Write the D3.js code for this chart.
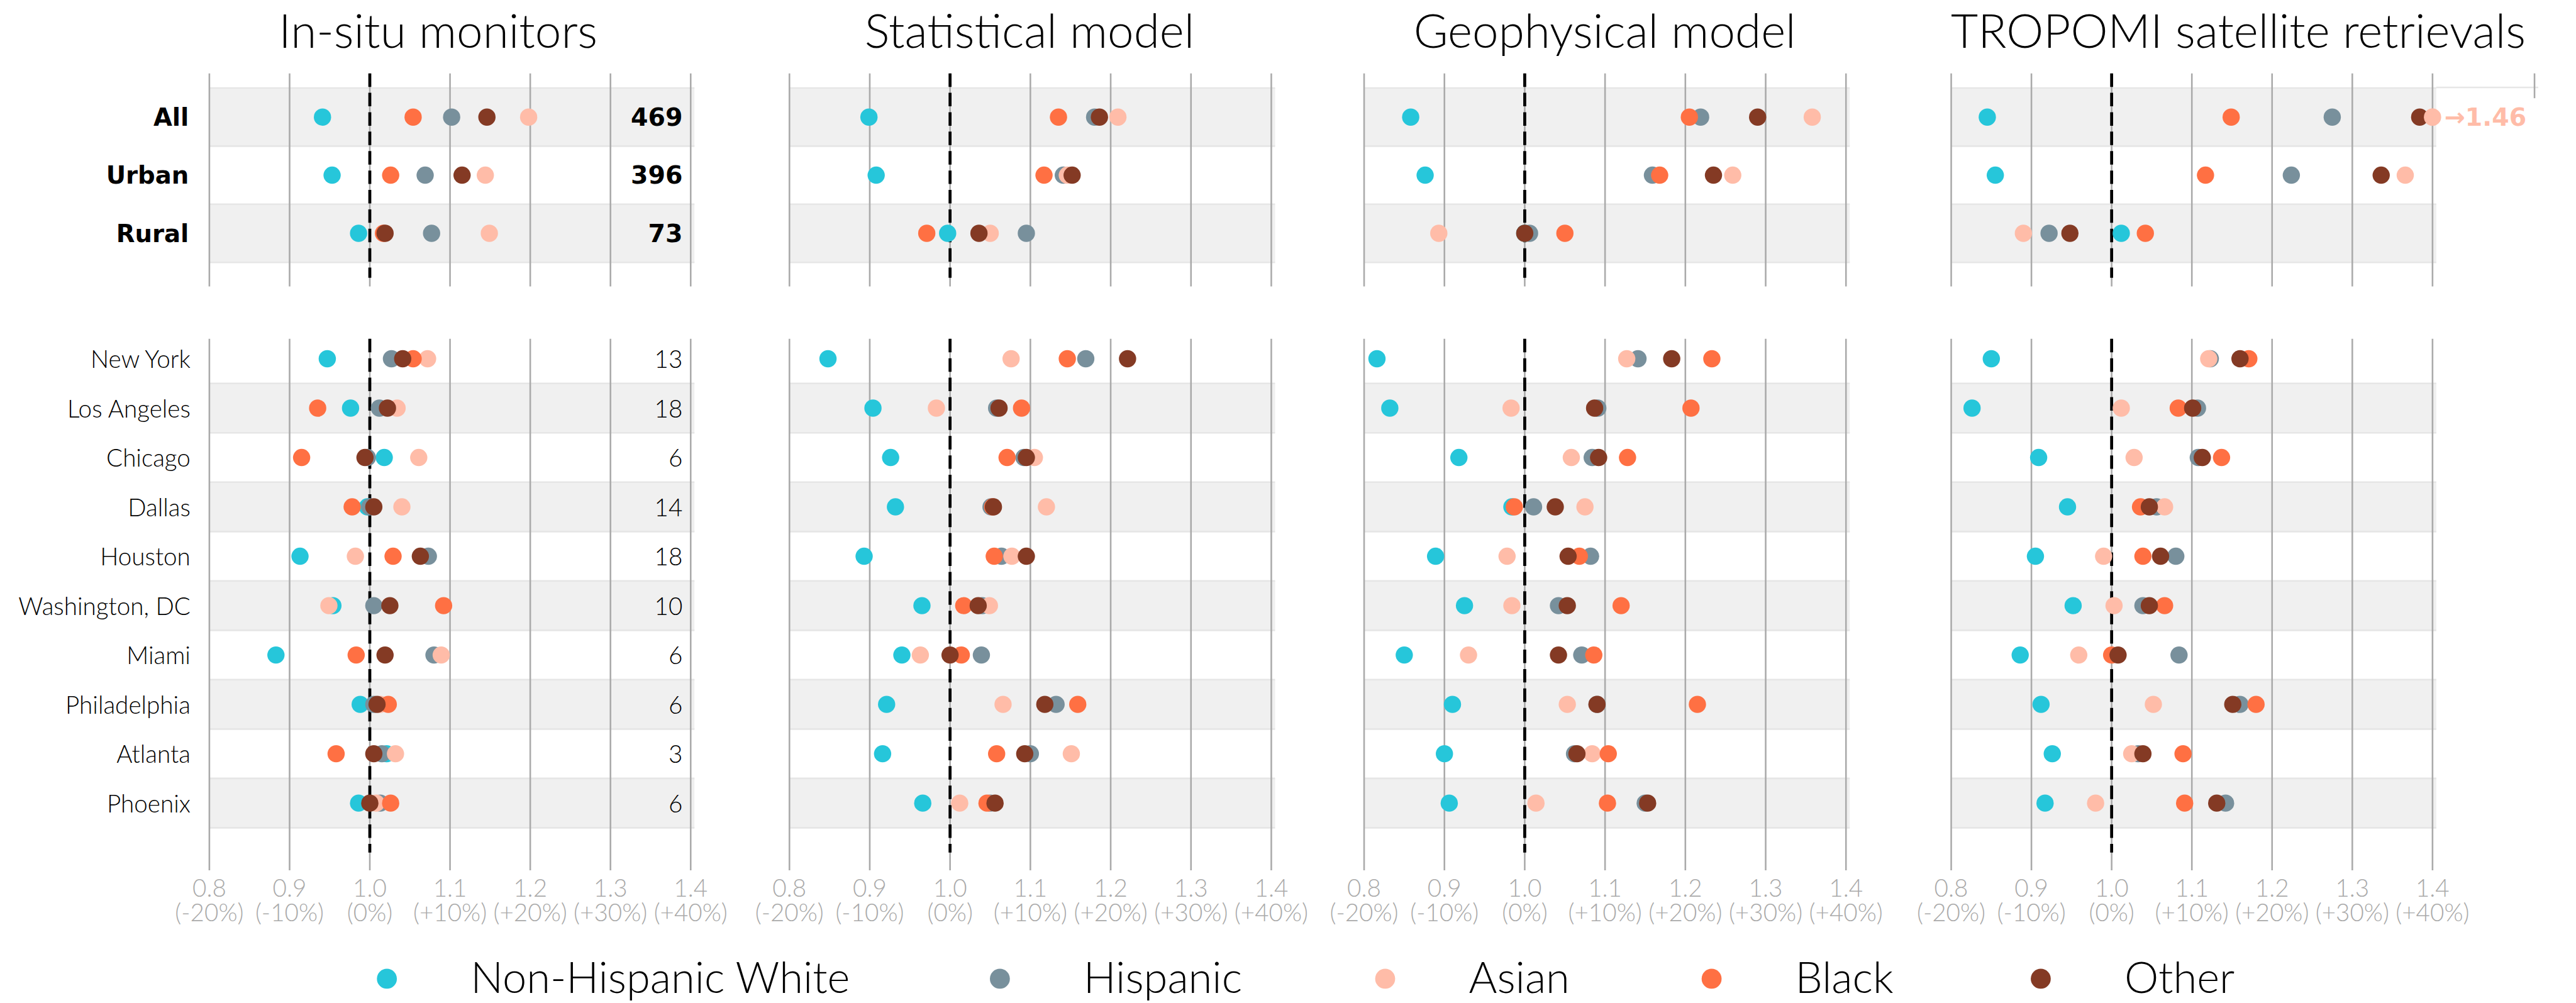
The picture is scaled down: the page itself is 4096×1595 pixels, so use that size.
<!DOCTYPE html>
<html>
<head>
<meta charset="utf-8">
<script src="https://cdn.jsdelivr.net/npm/d3@7"></script>
<style>
  html, body { margin: 0; padding: 0; background: #fff; }
  svg { display: block; }
</style>
</head>
<body>
<div id="main"></div>
<script>
// ---- data ----
const races = ["Non-Hispanic White", "Hispanic", "Asian", "Black", "Other"];
const raceColors = ["#26c6da", "#78909c", "#ffbca8", "#ff7043", "#843a24"];

const groupRows = ["All", "Urban", "Rural"];
const groupCounts = [469, 396, 73];
const cityRows = ["New York", "Los Angeles", "Chicago", "Dallas", "Houston",
                  "Washington, DC", "Miami", "Philadelphia", "Atlanta", "Phoenix"];
const cityCounts = [13, 18, 6, 14, 18, 10, 6, 6, 3, 6];

const panelTitles = ["In-situ monitors", "Statistical model", "Geophysical model", "TROPOMI satellite retrievals"];
const tickValues = [0.8, 0.9, 1.0, 1.1, 1.2, 1.3, 1.4];
const tickPercents = ["(-20%)", "(-10%)", "(0%)", "(+10%)", "(+20%)", "(+30%)", "(+40%)"];

// rows: All, Urban, Rural, then cities; columns follow `races`
const insitu = [
  [0.941, 1.102, 1.198, 1.054, 1.146],
  [0.953, 1.069, 1.144, 1.026, 1.115],
  [0.986, 1.077, 1.149, 1.017, 1.019],
  [0.947, 1.027, 1.072, 1.054, 1.041],
  [0.976, 1.012, 1.034, 0.935, 1.022],
  [1.018, 0.997, 1.061, 0.915, 0.994],
  [0.997, 1.000, 1.040, 0.978, 1.005],
  [0.913, 1.073, 0.982, 1.029, 1.063],
  [0.954, 1.005, 0.949, 1.092, 1.025],
  [0.883, 1.080, 1.089, 0.983, 1.019],
  [0.988, 1.005, 1.013, 1.023, 1.009],
  [1.021, 1.015, 1.032, 0.958, 1.005],
  [0.986, 1.013, 1.008, 1.026, 1.000]
];
const statistical = [
  [0.899, 1.180, 1.209, 1.135, 1.186],
  [0.908, 1.141, 1.146, 1.117, 1.152],
  [0.997, 1.095, 1.050, 0.971, 1.036],
  [0.848, 1.169, 1.076, 1.146, 1.221],
  [0.904, 1.058, 0.983, 1.089, 1.061],
  [0.926, 1.092, 1.105, 1.071, 1.095],
  [0.932, 1.051, 1.120, 1.053, 1.054],
  [0.893, 1.064, 1.077, 1.055, 1.095],
  [0.965, 1.040, 1.049, 1.017, 1.035],
  [0.940, 1.039, 0.963, 1.014, 1.000],
  [0.921, 1.132, 1.066, 1.159, 1.118],
  [0.916, 1.100, 1.151, 1.058, 1.093],
  [0.966, 1.050, 1.012, 1.046, 1.056]
];
const geophysical = [
  [0.858, 1.219, 1.358, 1.205, 1.290],
  [0.876, 1.159, 1.259, 1.168, 1.235],
  [1.000, 1.006, 0.893, 1.050, 1.000],
  [0.816, 1.141, 1.127, 1.233, 1.183],
  [0.832, 1.091, 0.983, 1.207, 1.087],
  [0.918, 1.084, 1.058, 1.128, 1.092],
  [0.984, 1.011, 1.075, 0.987, 1.038],
  [0.889, 1.082, 0.978, 1.068, 1.054],
  [0.925, 1.042, 0.984, 1.120, 1.053],
  [0.850, 1.071, 0.930, 1.086, 1.042],
  [0.910, 1.090, 1.053, 1.215, 1.090],
  [0.900, 1.062, 1.084, 1.104, 1.065],
  [0.906, 1.150, 1.014, 1.103, 1.153]
];
const tropomi = [
  [0.845, 1.275, 1.460, 1.149, 1.384],
  [0.855, 1.224, 1.366, 1.117, 1.336],
  [1.012, 0.922, 0.890, 1.042, 0.948],
  [0.850, 1.123, 1.121, 1.171, 1.160],
  [0.826, 1.107, 1.012, 1.083, 1.101],
  [0.909, 1.108, 1.028, 1.137, 1.113],
  [0.945, 1.056, 1.066, 1.036, 1.047],
  [0.905, 1.080, 0.990, 1.039, 1.061],
  [0.952, 1.039, 1.003, 1.066, 1.047],
  [0.886, 1.084, 0.959, 1.000, 1.008],
  [0.912, 1.160, 1.052, 1.180, 1.151],
  [0.926, 1.033, 1.025, 1.089, 1.039],
  [0.917, 1.142, 0.980, 1.091, 1.131]
];
const panelData = [insitu, statistical, geophysical, tropomi];

// ---- layout (drawn in reference pixels, then scaled) ----
const ctx = {
  w: 4096, h: 1595, scale: 0.858,
  panelX: [[388, 1280], [1463, 2356], [2528, 3421], [3616, 4508]],
  titleX: [812, 1908, 2974, 4148],
  topRange: [163.15, 486.25],
  botRange: [619.25, 1534.25],
  topGrid: [136, 531], botGrid: [628, 1613],
  topDash: [136, 515], botDash: [628, 1580],
  dotR: 16,
  lightFont: "Lato, 'Open Sans', 'DejaVu Sans', sans-serif",
  boldFont: "'DejaVu Sans', sans-serif",
  legendX: [717, 1853, 2567, 3172, 3782],
};

const svg = d3.select("#main").append("svg")
  .attr("width", ctx.w).attr("height", ctx.h);
const root = svg.append("g").attr("transform", `scale(${ctx.scale})`);

const yTop = d3.scaleBand().domain(groupRows).range(ctx.topRange).padding(0);
const yBot = d3.scaleBand().domain(cityRows).range(ctx.botRange).padding(0);

function drawBlock(g, x, y, rows, vals, gridY, dashY){
  const bw = y.bandwidth();
  // shaded alternating rows
  const shaded = rows.filter((d, i) => (rows.length === 3 ? i % 2 === 0 : i % 2 === 1));
  g.append("g").selectAll("rect").data(shaded).enter().append("rect")
    .attr("x", x(0.8)).attr("width", x(1.4) - x(0.8) + 7)
    .attr("y", d => y(d)).attr("height", bw)
    .attr("fill", "#f0f0f0");
  const edges = g.append("g").attr("stroke", "#e6e6e6").attr("stroke-width", 3);
  shaded.forEach(d => {
    [y(d), y(d) + bw].forEach(yy => {
      edges.append("line").attr("x1", x(0.8)).attr("x2", x(1.4) + 7)
        .attr("y1", yy).attr("y2", yy);
    });
  });
  // grid
  g.append("g").selectAll("line").data(tickValues).enter().append("line")
    .attr("x1", d => x(d)).attr("x2", d => x(d))
    .attr("y1", gridY[0]).attr("y2", gridY[1])
    .attr("stroke", "#aaaaaa").attr("stroke-width", 3);
  // reference line at 1.0
  g.append("line")
    .attr("x1", x(1.0)).attr("x2", x(1.0))
    .attr("y1", dashY[0]).attr("y2", dashY[1])
    .attr("stroke", "#000").attr("stroke-width", 5.5)
    .attr("stroke-dasharray", "25,11");
  // dots, drawn race by race
  races.forEach((r, k) => {
    g.append("g").selectAll("circle").data(rows).enter().append("circle")
      .attr("cx", (d, i) => x(Math.min(vals[i][k], 1.4)))
      .attr("cy", d => y(d) + bw / 2)
      .attr("r", ctx.dotR)
      .attr("fill", raceColors[k]);
  });
}

panelData.forEach(function(data, p){
  const x = d3.scaleLinear().domain([0.8, 1.4]).range(ctx.panelX[p]);
  const g = root.append("g");

  drawBlock(g, x, yTop, groupRows, data.slice(0, 3), ctx.topGrid, ctx.topDash);
  drawBlock(g, x, yBot, cityRows, data.slice(3), ctx.botGrid, ctx.botDash);

  // title
  g.append("text")
    .attr("x", ctx.titleX[p]).attr("y", 88)
    .attr("text-anchor", "middle")
    .attr("font-family", ctx.lightFont).attr("font-weight", 300)
    .attr("font-size", 87).attr("fill", "#000")
    .text(panelTitles[p]);

  // tick labels
  const tl = g.append("g").attr("fill", "#aaaaaa")
    .attr("font-family", ctx.lightFont).attr("font-weight", 300)
    .attr("font-size", 45).attr("text-anchor", "middle");
  tl.selectAll("text.v").data(tickValues).enter().append("text").attr("class", "v")
    .attr("x", d => x(d)).attr("y", 1662).text(d => d.toFixed(1));
  tl.selectAll("text.p").data(tickPercents).enter().append("text").attr("class", "p")
    .attr("x", (d, i) => x(tickValues[i])).attr("y", 1708).text(d => d);

  // values beyond the axis limit: pinned to 1.4 with an arrow label
  groupRows.forEach((row, i) => {
    data[i].forEach((v, k) => {
      if (v > 1.4){
        const ty = yTop(row) + yTop.bandwidth() / 2;
        g.append("rect").attr("x", x(1.4) + 7).attr("y", 164)
          .attr("width", 190).attr("height", 107).attr("fill", "#fff");
        g.append("line").attr("x1", x(1.4) + 7).attr("x2", x(1.4) + 196)
          .attr("y1", 162).attr("y2", 162)
          .attr("stroke", "#e6e6e6").attr("stroke-width", 3);
        g.append("line").attr("x1", x(1.4) + 189).attr("x2", x(1.4) + 189)
          .attr("y1", ctx.topGrid[0]).attr("y2", 182)
          .attr("stroke", "#aaaaaa").attr("stroke-width", 3);
        g.append("circle").attr("cx", x(1.4)).attr("cy", ty)
          .attr("r", ctx.dotR).attr("fill", raceColors[k]);
        g.append("text").attr("x", x(1.4) + 22).attr("y", ty + 16)
          .attr("font-family", ctx.boldFont).attr("font-weight", "bold")
          .attr("font-size", 46).attr("fill", raceColors[k])
          .text("\u2192" + v.toFixed(2));
      }
    });
  });

  if (p === 0){
    // row labels and counts
    const lab = g.append("g").attr("text-anchor", "end");
    lab.selectAll("text.g").data(groupRows).enter().append("text").attr("class", "g")
      .attr("x", 350).attr("y", d => yTop(d) + yTop.bandwidth() / 2 + 16)
      .attr("font-family", ctx.boldFont).attr("font-weight", "bold").attr("font-size", 45)
      .text(d => d);
    lab.selectAll("text.gc").data(groupCounts).enter().append("text").attr("class", "gc")
      .attr("x", 1265).attr("y", (d, i) => yTop(groupRows[i]) + yTop.bandwidth() / 2 + 16)
      .attr("font-family", ctx.boldFont).attr("font-weight", "bold").attr("font-size", 46)
      .text(d => d);
    lab.selectAll("text.c").data(cityRows).enter().append("text").attr("class", "c")
      .attr("x", 353).attr("y", d => yBot(d) + yBot.bandwidth() / 2 + 17)
      .attr("font-family", ctx.lightFont).attr("font-weight", 300).attr("font-size", 45)
      .text(d => d);
    lab.selectAll("text.cc").data(cityCounts).enter().append("text").attr("class", "cc")
      .attr("x", 1265).attr("y", (d, i) => yBot(cityRows[i]) + yBot.bandwidth() / 2 + 17)
      .attr("font-family", ctx.lightFont).attr("font-weight", 300).attr("font-size", 45)
      .text(d => d);
  }
});

// legend
const leg = root.append("g");
races.forEach(function(r, k){
  leg.append("circle").attr("cx", ctx.legendX[k]).attr("cy", 1814)
    .attr("r", 18.5).attr("fill", raceColors[k]);
  leg.append("text").attr("x", ctx.legendX[k] + 155).attr("y", 1840)
    .attr("font-family", ctx.lightFont).attr("font-weight", 300)
    .attr("font-size", 80).attr("fill", "#000")
    .text(r);
});
</script>
</body>
</html>
